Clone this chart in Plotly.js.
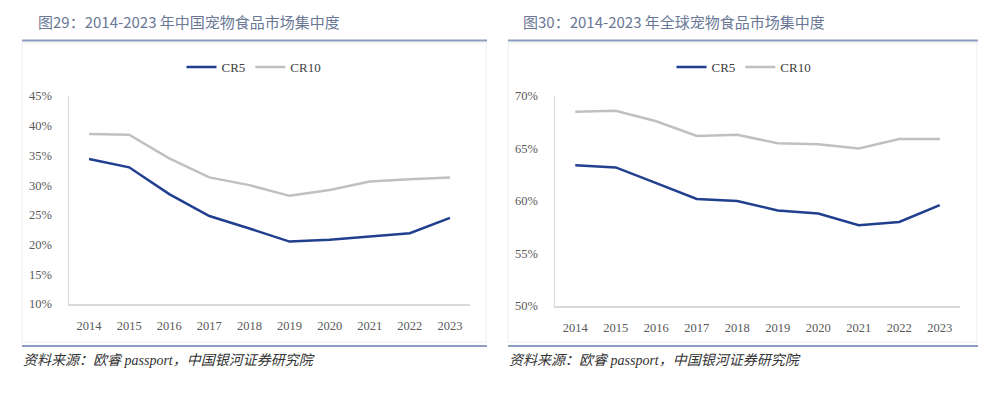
<!DOCTYPE html>
<html>
<head>
<meta charset="utf-8">
<script src="https://cdn.plot.ly/plotly-3.0.1.min.js"></script>
<style>html,body{margin:0;padding:0;background:#fff;}#chart{width:992px;height:393px;}</style>
</head>
<body>
<div id="chart"></div>
<script>
// Data
const years = ['2014','2015','2016','2017','2018','2019','2020','2021','2022','2023'];
const chinaCR5  = [34.4, 33.0, 28.5, 24.8, 22.7, 20.5, 20.8, 21.3, 21.9, 24.5];
const chinaCR10 = [38.6, 38.5, 34.5, 31.3, 30.0, 28.2, 29.2, 30.6, 31.0, 31.3];
const globalCR5  = [63.4, 63.2, 61.7, 60.2, 60.0, 59.1, 58.8, 57.7, 58.0, 59.6];
const globalCR10 = [68.5, 68.6, 67.6, 66.2, 66.3, 65.5, 65.4, 65.0, 65.9, 65.9];
const seriesNames = ['CR5', 'CR10'];
const titleLeft = '图29：2014-2023 年中国宠物食品市场集中度';
const titleRight = '图30：2014-2023 年全球宠物食品市场集中度';
const sourceText = '资料来源：欧睿 passport，中国银河证券研究院';

const W = 992, H = 393;
const px = x => x / W;
const py = y => 1 - y / H;

const blue = '#213f8f', gray = '#c0c0c0';
const serif = 'Liberation Serif, Noto Sans CJK SC, serif';
const cjk = 'Noto Sans CJK SC, sans-serif';

const traces = [
  {x: years, y: chinaCR5, name: seriesNames[0], type: 'scatter', mode: 'lines', line: {color: blue, width: 2.5}, xaxis: 'x', yaxis: 'y', legend: 'legend'},
  {x: years, y: chinaCR10, name: seriesNames[1], type: 'scatter', mode: 'lines', line: {color: gray, width: 2.5}, xaxis: 'x', yaxis: 'y', legend: 'legend'},
  {x: years, y: globalCR5, name: seriesNames[0], type: 'scatter', mode: 'lines', line: {color: blue, width: 2.5}, xaxis: 'x2', yaxis: 'y2', legend: 'legend2'},
  {x: years, y: globalCR10, name: seriesNames[1], type: 'scatter', mode: 'lines', line: {color: gray, width: 2.5}, xaxis: 'x2', yaxis: 'y2', legend: 'legend2'}
];

const xCommon = {type: 'category', range: [-0.5, years.length - 0.5], showgrid: false, zeroline: false, showline: true, linecolor: '#d9d9d9', linewidth: 1.5, ticks: '', ticklabelstandoff: 9, tickfont: {family: serif, size: 12.5, color: '#595959'}, fixedrange: true};
const yCommon = {showgrid: false, zeroline: false, showline: true, linecolor: '#d9d9d9', linewidth: 1.5, ticks: '', dtick: 5, ticksuffix: '%', ticklabelstandoff: 13, tickfont: {family: serif, size: 12.5, color: '#595959'}, fixedrange: true};

const layout = {
  width: W, height: H,
  margin: {l: 0, r: 0, t: 0, b: 0},
  paper_bgcolor: '#fff', plot_bgcolor: 'rgba(0,0,0,0)',
  showlegend: true,
  xaxis: Object.assign({}, xCommon, {domain: [px(69), px(470)], anchor: 'y'}),
  yaxis: Object.assign({}, yCommon, {domain: [py(304), py(96)], range: [10, 45], anchor: 'x'}),
  xaxis2: Object.assign({}, xCommon, {domain: [px(555), px(960)], anchor: 'y2'}),
  yaxis2: Object.assign({}, yCommon, {domain: [py(306), py(96)], range: [50, 70], anchor: 'x2'}),
  legend: {orientation: 'h', x: px(254), xanchor: 'center', y: py(67), yanchor: 'middle', font: {family: serif, size: 13, color: '#404040'}, bgcolor: 'rgba(0,0,0,0)', tracegroupgap: 0},
  legend2: {orientation: 'h', x: px(744), xanchor: 'center', y: py(67), yanchor: 'middle', font: {family: serif, size: 13, color: '#404040'}, bgcolor: 'rgba(0,0,0,0)', tracegroupgap: 0},
  shapes: [
    {type: 'rect', xref: 'paper', yref: 'paper', x0: px(22), x1: px(486), y0: py(342), y1: py(43), line: {color: '#eeeeee', width: 1}, layer: 'below'},
    {type: 'rect', xref: 'paper', yref: 'paper', x0: px(508), x1: px(977), y0: py(342), y1: py(43), line: {color: '#eeeeee', width: 1}, layer: 'below'},
    {type: 'line', xref: 'paper', yref: 'paper', x0: px(22), x1: px(487), y0: py(40.5), y1: py(40.5), line: {color: '#8c9dbf', width: 2}},
    {type: 'line', xref: 'paper', yref: 'paper', x0: px(508), x1: px(978), y0: py(40.5), y1: py(40.5), line: {color: '#8c9dbf', width: 2}},
    {type: 'line', xref: 'paper', yref: 'paper', x0: px(22), x1: px(487), y0: py(346), y1: py(346), line: {color: '#8c9dbf', width: 2}},
    {type: 'line', xref: 'paper', yref: 'paper', x0: px(508), x1: px(978), y0: py(346), y1: py(346), line: {color: '#8c9dbf', width: 2}}
  ],
  annotations: [
    {text: titleLeft, xref: 'paper', yref: 'paper', x: px(36), y: py(22), xanchor: 'left', yanchor: 'middle', showarrow: false, font: {family: cjk, size: 15, color: '#6a7896'}},
    {text: titleRight, xref: 'paper', yref: 'paper', x: px(521), y: py(22), xanchor: 'left', yanchor: 'middle', showarrow: false, font: {family: cjk, size: 15, color: '#6a7896'}},
    {text: '<i>' + sourceText + '</i>', xref: 'paper', yref: 'paper', x: px(21), y: py(360), xanchor: 'left', yanchor: 'middle', showarrow: false, font: {family: serif, size: 14, color: '#333333'}},
    {text: '<i>' + sourceText + '</i>', xref: 'paper', yref: 'paper', x: px(507), y: py(360), xanchor: 'left', yanchor: 'middle', showarrow: false, font: {family: serif, size: 14, color: '#333333'}}
  ]
};

Plotly.newPlot('chart', traces, layout, {displayModeBar: false, staticPlot: true});
</script>
</body>
</html>
